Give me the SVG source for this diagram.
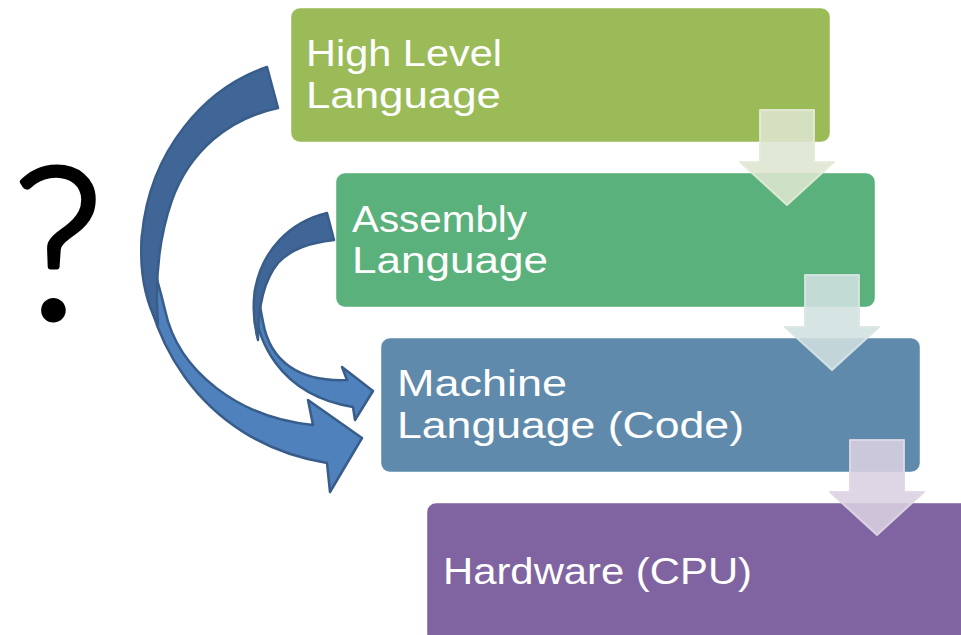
<svg xmlns="http://www.w3.org/2000/svg" width="961" height="635" viewBox="0 0 961 635">
<style>
.box{stroke:#ffffff;stroke-opacity:0.45;stroke-width:1}
.lbl{font-family:"Liberation Sans",Arial,sans-serif;font-size:37px;fill:#ffffff}
.back{fill:#3F6696;stroke:#385D8A;stroke-width:2.5;stroke-linejoin:round}
.front{fill:#4F81BD;stroke:#385D8A;stroke-width:2.5;stroke-linejoin:round}
.dn{stroke-width:2;stroke-linejoin:round;fill-opacity:0.88;stroke-opacity:0.9}
</style>
<rect width="961" height="635" fill="#ffffff"/>
<g id="qmark">
<text x="58" y="318" text-anchor="middle" font-family="Lato,'Open Sans',sans-serif" font-weight="300" font-size="212" fill="#000000" stroke="#000000" stroke-width="5" stroke-linejoin="round">?</text>
</g>
<g id="n1">
<rect class="box" x="291" y="8" width="539" height="134" rx="9" fill="#9BBB59"/>
<text class="lbl"><tspan x="306" y="66" textLength="196" lengthAdjust="spacingAndGlyphs">High Level</tspan><tspan x="306" y="108" textLength="195" lengthAdjust="spacingAndGlyphs">Language</tspan></text>
</g>
<g id="n2">
<rect class="box" x="336" y="173" width="539" height="134" rx="9" fill="#5BB17B"/>
<text class="lbl"><tspan x="352" y="232" textLength="175" lengthAdjust="spacingAndGlyphs">Assembly</tspan><tspan x="352" y="273" textLength="196" lengthAdjust="spacingAndGlyphs">Language</tspan></text>
</g>
<g id="n3">
<rect class="box" x="381" y="338" width="539" height="134" rx="9" fill="#5F8AAB"/>
<text class="lbl"><tspan x="397" y="396" textLength="170" lengthAdjust="spacingAndGlyphs">Machine</tspan><tspan x="397" y="438" textLength="347" lengthAdjust="spacingAndGlyphs">Language (Code)</tspan></text>
</g>
<g id="n4">
<rect class="box" x="427" y="503" width="550" height="140" rx="9" fill="#8064A1"/>
<text class="lbl" x="443" y="584" textLength="309" lengthAdjust="spacingAndGlyphs">Hardware (CPU)</text>
</g>
<g id="connectors">
<path class="dn" fill="#DDE5CF" stroke="#E4EBD8" d="M760,110 H814 V162 H834 L787,205 L740,162 H760 Z"/>
<path class="dn" fill="#D0E0E0" stroke="#D8E6E6" d="M805,275 H859 V327 H879 L832,370 L785,327 H805 Z"/>
<path class="dn" fill="#D9D0E0" stroke="#E0D8E6" d="M850,440 H904 V492 H924 L877,535 L830,492 H850 Z"/>
<g id="small-curve">
<path class="front" d="M255,290 C252,340 280,395 353,407 L355,420 L373,391 L342,367 L347,380 C300,382 270,362 263,322 C260,305 258,297 255,290 Z"/>
<path class="back" d="M327,213 C290,222 262,250 255,290 C252,310 254,325 258,340 C258,305 264,280 278,263 C292,248 310,243 334,240 Z"/>
</g>
<g id="big-curve">
<path class="front" d="M142,235 C138,330 198,442 327,463 L330,492 L362,438 L308,400 L313,425 C240,418 178,372 165,310 C159,285 152,260 142,235 Z"/>
<path class="back" d="M267,67 C205,88 150,150 142,235 C139,270 145,300 158,325 C155,285 158,240 172,200 C190,150 230,118 278,108 Z"/>
</g>
</g>
</svg>
